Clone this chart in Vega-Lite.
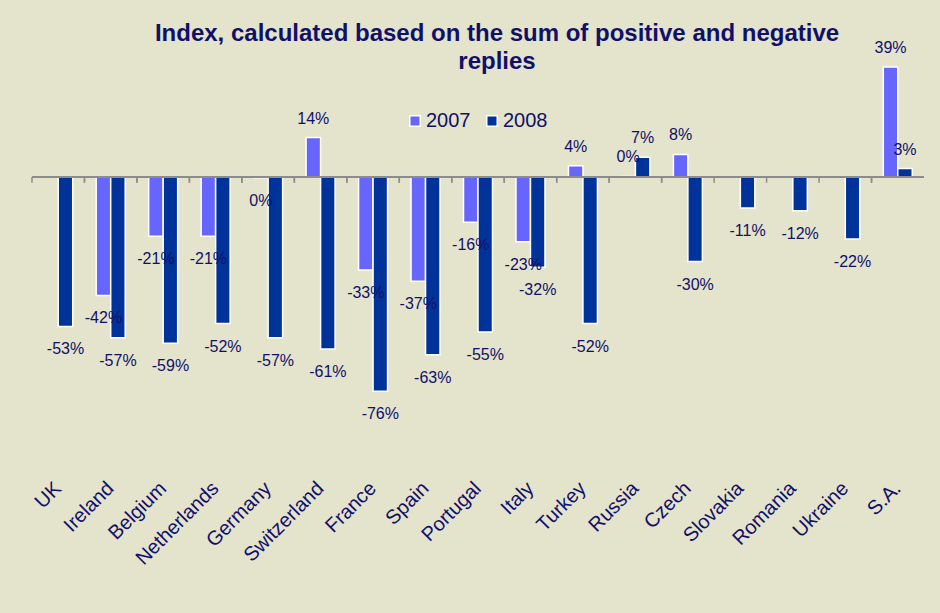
{
  "$schema": "https://vega.github.io/schema/vega-lite/v6.json",
  "width": 892,
  "height": 455,
  "autosize": {"type": "none"},
  "padding": {"left": 32, "top": 20, "right": 16, "bottom": 138},
  "background": "#e4e3cb",
  "title": {
    "text": ["Index, calculated based on the sum of positive and negative", "replies"],
    "font": "Liberation Sans",
    "fontSize": 24,
    "fontWeight": "bold",
    "color": "#10106a",
    "lineHeight": 28,
    "anchor": "middle",
    "dx": 19,
    "offset": -54
  },
  "data": {
    "values": [
      {"country": "UK", "year": "2008", "value": -0.53},
      {"country": "Ireland", "year": "2007", "value": -0.42},
      {"country": "Ireland", "year": "2008", "value": -0.57},
      {"country": "Belgium", "year": "2007", "value": -0.21},
      {"country": "Belgium", "year": "2008", "value": -0.59},
      {"country": "Netherlands", "year": "2007", "value": -0.21},
      {"country": "Netherlands", "year": "2008", "value": -0.52},
      {"country": "Germany", "year": "2007", "value": -0.003},
      {"country": "Germany", "year": "2008", "value": -0.57},
      {"country": "Switzerland", "year": "2007", "value": 0.14},
      {"country": "Switzerland", "year": "2008", "value": -0.61},
      {"country": "France", "year": "2007", "value": -0.33},
      {"country": "France", "year": "2008", "value": -0.76},
      {"country": "Spain", "year": "2007", "value": -0.37},
      {"country": "Spain", "year": "2008", "value": -0.63},
      {"country": "Portugal", "year": "2007", "value": -0.16},
      {"country": "Portugal", "year": "2008", "value": -0.55},
      {"country": "Italy", "year": "2007", "value": -0.23},
      {"country": "Italy", "year": "2008", "value": -0.32},
      {"country": "Turkey", "year": "2007", "value": 0.04},
      {"country": "Turkey", "year": "2008", "value": -0.52},
      {"country": "Russia", "year": "2007", "value": 0.002},
      {"country": "Russia", "year": "2008", "value": 0.07},
      {"country": "Czech", "year": "2007", "value": 0.08},
      {"country": "Czech", "year": "2008", "value": -0.30},
      {"country": "Slovakia", "year": "2008", "value": -0.11},
      {"country": "Romania", "year": "2008", "value": -0.12},
      {"country": "Ukraine", "year": "2008", "value": -0.22},
      {"country": "S.A.", "year": "2007", "value": 0.39},
      {"country": "S.A.", "year": "2008", "value": 0.03}
    ]
  },
  "layer": [
    {
      "mark": {"type": "bar", "stroke": "white", "strokeWidth": 1.5},
      "encoding": {
        "x": {
          "field": "country",
          "type": "nominal",
          "sort": ["UK", "Ireland", "Belgium", "Netherlands", "Germany", "Switzerland", "France", "Spain", "Portugal", "Italy", "Turkey", "Russia", "Czech", "Slovakia", "Romania", "Ukraine", "S.A."],
          "scale": {"paddingInner": 0, "paddingOuter": 0},
          "axis": {
            "title": null,
            "orient": "bottom",
            "domain": false,
            "ticks": false,
            "grid": false,
            "labelAngle": -45,
            "labelAlign": "right",
            "labelBaseline": "middle",
            "labelFont": "Liberation Sans",
            "labelFontSize": 20,
            "labelColor": "#10106a",
            "labelPadding": 10,
            "labelOverlap": false,
            "labelLimit": 0
          }
        },
        "y": {
          "field": "value",
          "type": "quantitative",
          "scale": {"domain": [-1.057, 0.557], "nice": false, "zero": false},
          "axis": null
        },
        "xOffset": {"field": "year", "type": "nominal", "scale": {"domain": ["2007", "2008"], "paddingOuter": 0.81, "paddingInner": 0}},
        "color": {
          "field": "year",
          "type": "nominal",
          "scale": {"domain": ["2007", "2008"], "range": ["#6666ff", "#003399"]},
          "legend": {
            "title": null,
            "orient": "none",
            "legendX": 373,
            "legendY": 91,
            "direction": "horizontal",
            "labelFont": "Liberation Sans",
            "labelFontSize": 20,
            "labelColor": "#10106a",
            "symbolType": "square",
            "symbolSize": 110,
            "symbolStrokeColor": "white",
            "symbolStrokeWidth": 1.5,
            "symbolOpacity": 1,
            "columnPadding": 11,
            "labelOffset": 1
          }
        }
      }
    },
    {
      "data": {"values": [{}]},
      "mark": {"type": "rule", "color": "#8c8c8c", "strokeWidth": 2},
      "encoding": {"y": {"datum": 0}}
    },
    {
      "mark": {"type": "rule", "color": "#8c8c8c", "strokeWidth": 1.5},
      "encoding": {
        "x": {
          "field": "country",
          "type": "nominal",
          "bandPosition": 0,
          "sort": ["UK", "Ireland", "Belgium", "Netherlands", "Germany", "Switzerland", "France", "Spain", "Portugal", "Italy", "Turkey", "Russia", "Czech", "Slovakia", "Romania", "Ukraine", "S.A."],
          "scale": {"paddingInner": 0, "paddingOuter": 0}
        },
        "y": {"datum": 0},
        "y2": {"datum": -0.02}
      }
    },
    {
      "transform": [{"filter": "datum.value >= 0"}],
      "mark": {"type": "text", "font": "Liberation Sans", "fontSize": 16, "color": "#10106a", "baseline": "middle", "dy": -19},
      "encoding": {
        "x": {
          "field": "country",
          "type": "nominal",
          "sort": ["UK", "Ireland", "Belgium", "Netherlands", "Germany", "Switzerland", "France", "Spain", "Portugal", "Italy", "Turkey", "Russia", "Czech", "Slovakia", "Romania", "Ukraine", "S.A."],
          "scale": {"paddingInner": 0, "paddingOuter": 0}
        },
        "y": {"field": "value", "type": "quantitative"},
        "xOffset": {"field": "year", "type": "nominal", "scale": {"domain": ["2007", "2008"], "paddingOuter": 0.81, "paddingInner": 0}},
        "text": {"field": "value", "type": "quantitative", "format": ".0%"}
      }
    },
    {
      "transform": [{"filter": "datum.value < 0"}],
      "mark": {"type": "text", "font": "Liberation Sans", "fontSize": 16, "color": "#10106a", "baseline": "middle", "dy": 23},
      "encoding": {
        "x": {
          "field": "country",
          "type": "nominal",
          "sort": ["UK", "Ireland", "Belgium", "Netherlands", "Germany", "Switzerland", "France", "Spain", "Portugal", "Italy", "Turkey", "Russia", "Czech", "Slovakia", "Romania", "Ukraine", "S.A."],
          "scale": {"paddingInner": 0, "paddingOuter": 0}
        },
        "y": {"field": "value", "type": "quantitative"},
        "xOffset": {"field": "year", "type": "nominal", "scale": {"domain": ["2007", "2008"], "paddingOuter": 0.81, "paddingInner": 0}},
        "text": {"field": "value", "type": "quantitative", "format": ".0%"}
      }
    }
  ],
  "config": {
    "view": {"stroke": null},
    "locale": {"number": {"decimal": ".", "thousands": ",", "grouping": [3], "currency": ["$", ""], "minus": "-"}}
  }
}
